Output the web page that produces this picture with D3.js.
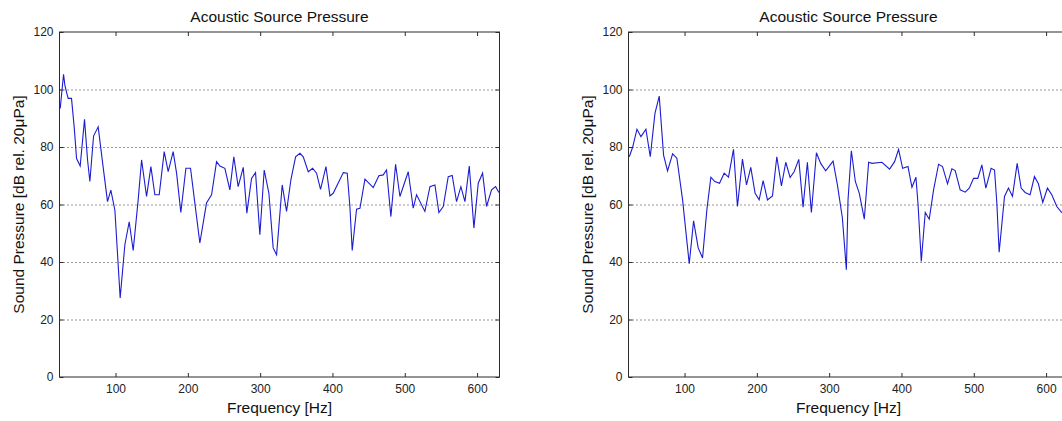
<!DOCTYPE html>
<html>
<head>
<meta charset="utf-8">
<script src="https://cdn.jsdelivr.net/npm/d3@7"></script>
<style>
  body { margin: 0; background: #fff; }
  svg { display: block; font-family: "Liberation Sans", Arial, sans-serif; }
</style>
</head>
<body>
<div id="chart"></div>
<script>
/* Acoustic source pressure spectra, two panels */

// axis ticks
const xTicks = [100, 200, 300, 400, 500, 600];
const yTicks = [0, 20, 40, 60, 80, 100, 120];
const gridTicks = [20, 40, 60, 80, 100];

// left panel: frequency [Hz] and level [dB]
const leftFreq = [23.5, 28.1, 29.9, 32.7, 34.5, 39.1, 42.8, 46.1, 51.1, 57.1, 61.3, 64.5, 69.6, 76, 81.6, 88.9, 93.5, 99.1, 106.4, 112.9,
  118.9, 124.4, 131.3, 136, 142.9, 148.9, 154.4, 160.4, 167.3, 172.8, 179.7, 184.4, 190.3, 197.3, 203.7, 209.7, 216.6, 225.8, 232.8, 239.7,
  244.3, 251.2, 258.1, 263.6, 269.6, 276.6, 281.6, 288.1, 293.6, 299.6, 305.6, 312.1, 318, 322.7, 330.5, 336.5, 342.5, 349, 355, 359.6,
  366.5, 372.5, 378, 383.5, 391, 396.5, 401, 415, 420.4, 424.1, 427.3, 433.3, 438, 444.9, 456.4, 464.2, 470.2, 474.8, 480.8, 487.3,
  493.3, 504.8, 511.7, 516.3, 527.8, 534.8, 541.7, 547.2, 553.2, 560.1, 565.6, 571.6, 577.6, 583.2, 589.2, 595.6, 601.6, 607.6, 613.1, 620,
  625.6, 630.2];
const leftDb = [93.4, 105.3, 101.5, 98.6, 96.9, 96.9, 87, 76, 73.4, 89.6, 75.5, 68, 83.8, 87, 75.5, 61, 65, 58, 27.5, 46,
  54, 44, 61.6, 75.5, 62.8, 73.2, 63.4, 63.4, 78.4, 71.4, 78.4, 70.9, 57.2, 72.6, 72.6, 60.5, 46.6, 60.5, 63.4, 74.9,
  73.4, 72.6, 65.1, 76.6, 66.2, 72.9, 57, 69.1, 71.1, 49.5, 72, 63.9, 44.9, 42.5, 66.8, 57.6, 68.6, 76.6, 77.8, 76.6,
  71.4, 72.6, 70.9, 65.3, 73.2, 63, 63.9, 71.1, 70.9, 59.3, 44, 58.4, 58.7, 68.8, 65.9, 70, 70.3, 72, 55.8, 74,
  62.8, 71.4, 58.7, 63.4, 57.6, 66.2, 66.8, 57.2, 59.3, 69.7, 70.1, 61, 66.2, 61, 73.4, 51.8, 67.4, 70.9, 59.3, 65.1,
  66.2, 64.2];

// right panel
const rightFreq = [23.6, 28.2, 34.2, 39.7, 46.6, 52.6, 59.1, 65, 71, 76.5, 83.5, 89.4, 97.3, 106.5, 112.5, 118.9, 124.9, 130.9, 136.4, 141.9,
  148.4, 154.8, 160.8, 167.7, 173.2, 180.1, 185.7, 191.6, 197.6, 203.2, 208.7, 214.7, 221.6, 227.6, 234, 240, 246, 251.5, 258, 263.9,
  269.9, 275.4, 282.4, 288.3, 295.2, 305.4, 311.4, 318.3, 323.8, 326.1, 330.7, 336.2, 341.7, 348.6, 354.6, 359.2, 373, 383.6, 390.5, 396,
  401.6, 409, 414.5, 420, 422.8, 427.4, 432.9, 438.4, 444.4, 451.3, 456.8, 463.7, 469.7, 474.3, 481.2, 488.1, 493.7, 499.7, 505.6, 511.2,
  516.7, 524, 528.7, 531.9, 535.1, 542.5, 548, 553.5, 560, 565.5, 571, 577.9, 583.9, 589.4, 595.4, 601.9, 607.9, 614.8, 621.7, 630];
const rightDb = [76.6, 79.9, 86.2, 83.6, 86.2, 76.6, 91.7, 97.7, 77.2, 71.7, 77.6, 76.1, 61.6, 39.4, 54.3, 44.9, 41.4, 58.2, 69.5, 68,
  67.4, 70.9, 69.5, 79.2, 59.3, 75.8, 66.8, 72.9, 63.9, 61.6, 68.3, 61.6, 63, 76.6, 66.5, 74.7, 69.4, 71.4, 75.7, 59.1,
  74.7, 57.2, 78, 74.3, 71.7, 75.1, 66.8, 55.3, 37.3, 61.6, 78.7, 68, 63.9, 54.9, 74.7, 74.3, 74.7, 72.3, 74.9, 79.2,
  72.6, 73.2, 66, 69.5, 60.5, 40.2, 57.2, 54.9, 65.1, 74, 73.2, 67.2, 72.4, 71.8, 65.1, 64.3, 65.7, 69.1, 69.1, 73.8,
  65.7, 72.6, 72, 60.5, 43.4, 62.8, 65.7, 62.8, 74.3, 65.7, 64.2, 63.4, 69.7, 67.2, 60.7, 65.7, 63.4, 59.3, 57.2, 58];

const width = 1062,
      height = 421,
      plotW = 440,
      margin = ({ top: 32, bottom: 44 });

const axisColor = "#2b2b2b";

let svg = d3.select("#chart")
    .append("svg")
    .attr("width", width)
    .attr("height", height);

function drawPanel(left, freq, db) {
    let g = svg.append("g");

    let x = d3.scaleLinear()
        .domain([22.5, 631])
        .range([left, left + plotW]);

    let y = d3.scaleLinear()
        .domain([0, 120])
        .range([height - margin.bottom, margin.top]);

    //dotted horizontal grid
    g.append("g")
        .selectAll("line")
        .data(gridTicks)
        .join("line")
        .attr("x1", x.range()[0])
        .attr("x2", x.range()[1])
        .attr("y1", d => y(d) + 0.5)
        .attr("y2", d => y(d) + 0.5)
        .attr("stroke", "#333")
        .attr("stroke-width", 1)
        .attr("stroke-dasharray", "1,3");

    //data line
    let pts = freq.map((f, i) => [f, db[i]]);
    g.append("path")
        .datum(pts)
        .attr("fill", "none")
        .attr("stroke", "#1c1cd2")
        .attr("stroke-width", 1.1)
        .attr("d", d3.line().x(d => x(d[0])).y(d => y(d[1])));

    //axes, ticks point inward
    let bottom = g.append("g")
        .attr("transform", `translate(0,${y(0)})`)
        .call(d3.axisBottom(x).tickValues(xTicks).tickSize(-4).tickPadding(7));
    let top = g.append("g")
        .attr("transform", `translate(0,${y(120)})`)
        .call(d3.axisTop(x).tickValues(xTicks).tickSize(-4).tickFormat(""));
    let leftAx = g.append("g")
        .attr("transform", `translate(${x.range()[0]},0)`)
        .call(d3.axisLeft(y).tickValues(yTicks).tickSize(-4).tickPadding(6));
    let rightAx = g.append("g")
        .attr("transform", `translate(${x.range()[1]},0)`)
        .call(d3.axisRight(y).tickValues(yTicks).tickSize(-4).tickFormat(""));

    for (let ax of [bottom, top, leftAx, rightAx]) {
        ax.select(".domain").remove();
        ax.selectAll("line").attr("stroke", axisColor);
        ax.selectAll("text")
            .attr("fill", "#222")
            .style("font-size", "12px")
            .style("font-family", "'Liberation Sans', Arial, sans-serif");
    }

    //box
    g.append("rect")
        .attr("x", x.range()[0])
        .attr("y", y(120))
        .attr("width", plotW)
        .attr("height", y(0) - y(120))
        .attr("fill", "none")
        .attr("stroke", axisColor)
        .attr("stroke-width", 1);

    //title and labels
    let cx = (x.range()[0] + x.range()[1]) / 2;
    g.append("text")
        .text("Acoustic Source Pressure")
        .attr("x", cx)
        .attr("y", 21.5)
        .attr("text-anchor", "middle")
        .style("font-size", "15.5px")
        .attr("fill", "#111");

    g.append("text")
        .text("Frequency [Hz]")
        .attr("x", cx)
        .attr("y", 413)
        .attr("text-anchor", "middle")
        .style("font-size", "15.5px")
        .attr("fill", "#111");

    g.append("text")
        .text("Sound Pressure [dB rel. 20\u03bcPa]")
        .attr("transform", `translate(${left - 36},${(y(0) + y(120)) / 2}) rotate(-90)`)
        .attr("text-anchor", "middle")
        .style("font-size", "15.5px")
        .attr("fill", "#111");
}

drawPanel(59.5, leftFreq, leftDb);
drawPanel(628.5, rightFreq, rightDb);
</script>
</body>
</html>
